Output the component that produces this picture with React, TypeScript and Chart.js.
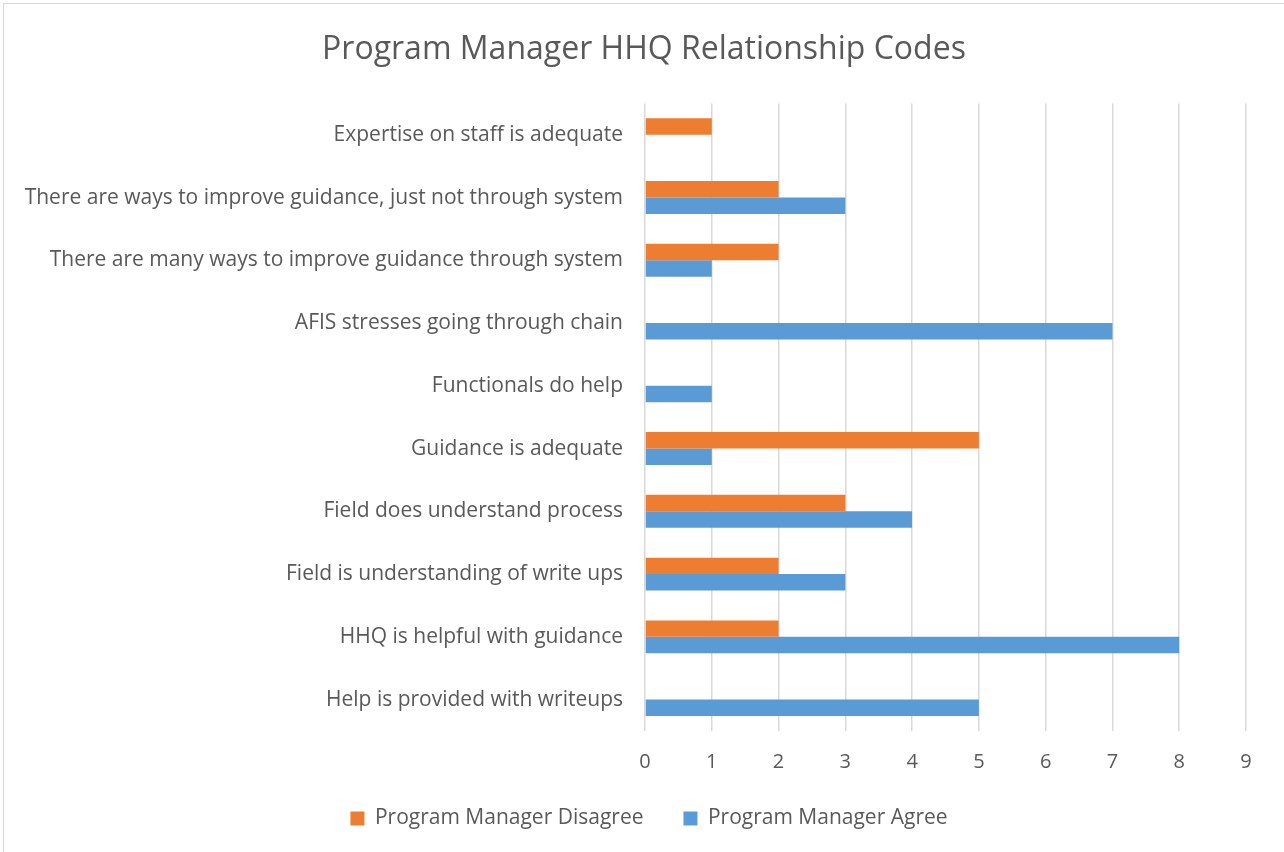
import React, { useEffect, useRef } from "react";
import { Chart, registerables } from "chart.js";

Chart.register(...registerables);

const TITLE = "Program Manager HHQ Relationship Codes";

const categories = [
  "Expertise on staff is adequate",
  "There are ways to improve guidance, just not through system",
  "There are many ways to improve guidance through system",
  "AFIS stresses going through chain",
  "Functionals do help",
  "Guidance is adequate",
  "Field does understand process",
  "Field is understanding of write ups",
  "HHQ is helpful with guidance",
  "Help is provided with writeups",
];

const disagreeValues = [1, 2, 2, 0, 0, 5, 3, 2, 2, 0];
const agreeValues = [0, 3, 1, 7, 1, 1, 4, 3, 8, 5];

const xTicks = [0, 1, 2, 3, 4, 5, 6, 7, 8, 9];

const FONT = "'Open Sans', 'Noto Sans', sans-serif";
const TEXT = "#595959";

const shiftBoxes = {
  id: "shiftBoxes",
  afterLayout(chart: any) {
    if (chart.legend) {
      chart.legend.left += 26;
      chart.legend.right += 26;
    }
    if (chart.titleBlock) {
      chart.titleBlock.left += 21;
      chart.titleBlock.right += 21;
    }
  },
};

export default function App() {
  const ref = useRef<HTMLCanvasElement | null>(null);

  useEffect(() => {
    if (!ref.current) return;
    const chart = new Chart(ref.current, {
      type: "bar",
      data: {
        labels: categories,
        datasets: [
          {
            label: "Program Manager Disagree",
            data: disagreeValues,
            backgroundColor: "#ED7D31",
            borderWidth: 0,
            barPercentage: 1,
            categoryPercentage: 0.525,
          },
          {
            label: "Program Manager Agree",
            data: agreeValues,
            backgroundColor: "#5B9BD5",
            borderWidth: 0,
            barPercentage: 1,
            categoryPercentage: 0.525,
          },
        ],
      },
      plugins: [shiftBoxes],
      options: {
        indexAxis: "y",
        animation: false,
        responsive: false,
        maintainAspectRatio: false,
        layout: { padding: { left: 0, right: 38, top: 0, bottom: 13 } },
        plugins: {
          title: {
            display: true,
            text: TITLE,
            color: TEXT,
            font: { family: FONT, size: 32, weight: "normal" },
            padding: { top: 31, bottom: 34 },
          },
          legend: {
            position: "bottom",
            labels: {
              color: TEXT,
              font: { family: FONT, size: 21 },
              boxWidth: 14,
              boxHeight: 14,
              padding: 40,
            },
          },
          tooltip: { enabled: false },
        },
        scales: {
          x: {
            min: 0,
            max: 9,
            afterBuildTicks: (scale: any) => {
              scale.ticks = xTicks.map((v) => ({ value: v }));
            },
            afterFit: (scale: any) => {
              scale.height = 37;
            },
            grid: {
              color: "#d9d9d9",
              lineWidth: 1.5,
              drawTicks: false,
            },
            border: { display: false },
            ticks: {
              color: TEXT,
              font: { family: FONT, size: 20 },
              padding: 19,
            },
          },
          y: {
            afterFit: (scale: any) => {
              scale.width = 645;
            },
            grid: { display: false, drawTicks: false },
            border: { display: false },
            ticks: {
              color: TEXT,
              font: { family: FONT, size: 21 },
              padding: 22,
              autoSkip: false,
            },
          },
        },
      },
    } as any);
    return () => chart.destroy();
  }, []);

  return (
    <div
      style={{
        position: "absolute",
        left: 0,
        top: 0,
        width: 1284,
        height: 852,
        background: "#fff",
        overflow: "hidden",
      }}
    >
      <div
        style={{
          position: "absolute",
          left: 3,
          top: 3,
          width: 1290,
          height: 860,
          border: "1px solid #d9d9d9",
        }}
      />
      <canvas
        ref={ref}
        width={1284}
        height={852}
        style={{ position: "absolute", left: 0, top: 0, width: 1284, height: 852 }}
      />
    </div>
  );
}
